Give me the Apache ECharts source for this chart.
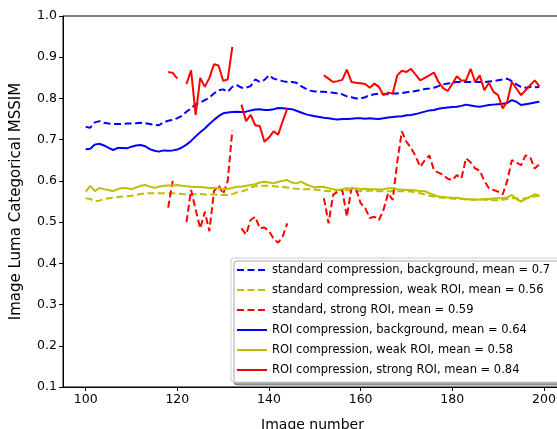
<!DOCTYPE html>
<html>
<head>
    <meta charset="utf-8">
    <script src="https://cdn.jsdelivr.net/npm/echarts@6/dist/echarts.min.js"></script>
</head>
<body style="margin: 0">
    <div id = "main" style = "width: 557px; height: 429px"></div>
    <script type = "text/javascript">
        // image numbers 100 .. 199
        var firstImage = 100, lastImage = 199;
        var xTicks = [100, 120, 140, 160, 180, 200];
        var yTicks = [0.1, 0.2, 0.3, 0.4, 0.5, 0.6, 0.7, 0.8, 0.9, 1.0];

        var names = [
            'standard compression, background, mean = 0.7',
            'standard compression, weak ROI, mean = 0.56',
            'standard, strong ROI, mean = 0.59',
            'ROI compression, background, mean = 0.64',
            'ROI compression, weak ROI, mean = 0.58',
            'ROI compression, strong ROI, mean = 0.84'
        ];

        var stdBackground = [
            0.731, 0.729, 0.742, 0.745, 0.741, 0.739, 0.738, 0.738, 0.738, 0.739,
            0.739, 0.740, 0.741, 0.740, 0.738, 0.736, 0.735, 0.742, 0.746, 0.748,
            0.752, 0.758, 0.768, 0.776, 0.786, 0.790, 0.796, 0.802, 0.812, 0.820,
            0.822, 0.816, 0.828, 0.832, 0.826, 0.826, 0.830, 0.846, 0.840, 0.845,
            0.856, 0.848, 0.845, 0.842, 0.840, 0.840, 0.838, 0.830, 0.824, 0.819,
            0.817, 0.816, 0.816, 0.815, 0.814, 0.812, 0.810, 0.805, 0.803, 0.800,
            0.800, 0.803, 0.808, 0.810, 0.812, 0.811, 0.810, 0.812, 0.812, 0.813,
            0.815, 0.816, 0.818, 0.820, 0.823, 0.824, 0.826, 0.830, 0.834, 0.836,
            0.838, 0.840, 0.840, 0.840, 0.840, 0.840, 0.840, 0.840, 0.841, 0.842,
            0.844, 0.846, 0.848, 0.842, 0.834, 0.828, 0.826, 0.828, 0.827, 0.828
        ];
        var stdWeak = [
            0.558, 0.556, 0.551, 0.552, 0.556, 0.558, 0.559, 0.561, 0.562, 0.563,
            0.564, 0.566, 0.568, 0.570, 0.570, 0.570, 0.570, 0.570, 0.570, 0.570,
            0.569, 0.568, 0.567, 0.567, 0.568, 0.568, 0.567, 0.567, 0.567, 0.566,
            0.566, 0.566, 0.568, 0.572, 0.574, 0.578, 0.584, 0.587, 0.588, 0.588,
            0.588, 0.587, 0.586, 0.585, 0.584, 0.582, 0.581, 0.580, 0.580, 0.580,
            0.579, 0.578, 0.576, 0.575, 0.576, 0.577, 0.578, 0.577, 0.576, 0.575,
            0.575, 0.576, 0.576, 0.576, 0.575, 0.575, 0.575, 0.575, 0.575, 0.575,
            0.575, 0.574, 0.572, 0.570, 0.567, 0.564, 0.562, 0.560, 0.559, 0.558,
            0.557, 0.556, 0.556, 0.555, 0.555, 0.555, 0.555, 0.554, 0.553, 0.553,
            0.553, 0.554, 0.556, 0.558, 0.558, 0.557, 0.558, 0.560, 0.562, 0.564
        ];
        var stdStrong = [
            null, null, null, null, null, null, null, null, null, null,
            null, null, null, null, null, null, null, null, 0.535, 0.600,
            null, null, 0.500, 0.578, 0.530, 0.485, 0.525, 0.478, 0.575, 0.590,
            0.568, 0.600, 0.722, null, 0.485, 0.470, 0.505, 0.513, 0.485, 0.487,
            0.478, 0.460, 0.450, 0.465, 0.497, null, null, null, null, null,
            null, null, 0.558, 0.497, 0.566, 0.574, 0.578, 0.513, 0.582, 0.580,
            0.546, 0.534, 0.510, 0.513, 0.505, 0.530, 0.570, 0.554, 0.646, 0.720,
            0.695, 0.680, 0.660, 0.634, 0.650, 0.662, 0.626, 0.620, 0.615, 0.605,
            0.602, 0.614, 0.606, 0.655, 0.645, 0.630, 0.625, 0.600, 0.582, 0.578,
            0.574, 0.567, 0.600, 0.650, 0.645, 0.638, 0.662, 0.658, 0.630, 0.640
        ];
        var roiBackground = [
            0.677, 0.678, 0.688, 0.690, 0.686, 0.680, 0.675, 0.680, 0.680, 0.679,
            0.683, 0.686, 0.687, 0.684, 0.677, 0.673, 0.671, 0.674, 0.673, 0.674,
            0.676, 0.681, 0.688, 0.697, 0.708, 0.718, 0.727, 0.738, 0.748, 0.757,
            0.764, 0.766, 0.767, 0.768, 0.767, 0.768, 0.771, 0.773, 0.774, 0.772,
            0.772, 0.774, 0.777, 0.776, 0.775, 0.774, 0.770, 0.766, 0.762, 0.759,
            0.757, 0.755, 0.753, 0.752, 0.750, 0.749, 0.750, 0.750, 0.751, 0.752,
            0.752, 0.751, 0.752, 0.751, 0.750, 0.752, 0.754, 0.755, 0.756, 0.757,
            0.759, 0.760, 0.762, 0.765, 0.768, 0.771, 0.772, 0.775, 0.777, 0.778,
            0.779, 0.780, 0.782, 0.785, 0.783, 0.781, 0.780, 0.782, 0.784, 0.785,
            0.786, 0.787, 0.789, 0.796, 0.792, 0.784, 0.786, 0.788, 0.790, 0.792
        ];
        var roiWeak = [
            0.574, 0.588, 0.575, 0.583, 0.580, 0.578, 0.575, 0.580, 0.583, 0.582,
            0.580, 0.584, 0.588, 0.590, 0.586, 0.583, 0.586, 0.588, 0.589, 0.589,
            0.590, 0.588, 0.587, 0.586, 0.585, 0.585, 0.584, 0.583, 0.583, 0.582,
            0.580, 0.581, 0.583, 0.586, 0.586, 0.588, 0.590, 0.592, 0.596, 0.598,
            0.596, 0.594, 0.598, 0.600, 0.602, 0.596, 0.594, 0.598, 0.592, 0.588,
            0.584, 0.586, 0.585, 0.582, 0.580, 0.578, 0.580, 0.582, 0.581, 0.582,
            0.580, 0.581, 0.580, 0.580, 0.579, 0.580, 0.582, 0.582, 0.580, 0.579,
            0.578, 0.578, 0.577, 0.575, 0.575, 0.570, 0.566, 0.562, 0.561, 0.560,
            0.559, 0.559, 0.557, 0.556, 0.555, 0.554, 0.555, 0.556, 0.556, 0.557,
            0.558, 0.558, 0.560, 0.566, 0.556, 0.550, 0.556, 0.562, 0.567, 0.565
        ];
        var roiStrong = [
            null, null, null, null, null, null, null, null, null, null,
            null, null, null, null, null, null, null, null, 0.864, 0.862,
            0.848, null, 0.835, 0.868, 0.760, 0.850, 0.828, 0.850, 0.883, 0.880,
            0.843, 0.846, 0.925, null, 0.785, 0.745, 0.760, 0.735, 0.733, 0.695,
            0.705, 0.720, 0.712, 0.745, 0.776, null, null, null, null, null,
            null, null, 0.856, 0.848, 0.840, 0.842, 0.845, 0.870, 0.840, 0.838,
            0.837, 0.835, 0.826, 0.836, 0.828, 0.808, 0.814, 0.812, 0.856, 0.867,
            0.864, 0.872, 0.858, 0.844, 0.850, 0.856, 0.863, 0.840, 0.825, 0.818,
            0.835, 0.854, 0.843, 0.844, 0.872, 0.840, 0.856, 0.820, 0.838, 0.816,
            0.808, 0.776, 0.792, 0.840, 0.824, 0.808, 0.820, 0.832, 0.844, 0.830
        ];

        var values = [stdBackground, stdWeak, stdStrong, roiBackground, roiWeak, roiStrong];
        var colors = ['#0000ff', '#bfbf00', '#ff0000', '#0000ff', '#bfbf00', '#ff0000'];
        var dashed = [true, true, true, false, false, false];

        window.onload = function () {
            chart();
        }

        function pairs(arr) {
            var out = [];
            for (var i = 0; i < arr.length; i++) {
                out.push([firstImage + i, arr[i] == null ? '-' : arr[i]]);
            }
            return out;
        }

        function chart() {
            var myChart = echarts.init(document.getElementById('main'));
            var serie = [];
            for (var k = 0; k < values.length; k++) {
                serie.push({
                    name: names[k],
                    type: 'line',
                    data: pairs(values[k]),
                    showSymbol: false,
                    symbol: 'none',
                    connectNulls: false,
                    lineStyle: {
                        color: colors[k],
                        width: 2,
                        type: dashed[k] ? [7, 3.5] : 'solid'
                    },
                    itemStyle: { color: colors[k] }
                });
            }
            var textFont = 'DejaVu Sans';
            var option = {
                animation: false,
                backgroundColor: '#fff',
                grid: {
                    left: 63,
                    top: 16,
                    right: -5,
                    bottom: 42,
                    outerBoundsMode: 'none',
                    show: true,
                    borderColor: '#000',
                    borderWidth: 1
                },
                xAxis: {
                    type: 'value',
                    min: 95.05,
                    max: 203.95,
                    name: 'Image number',
                    nameLocation: 'middle',
                    nameGap: 31,
                    nameTextStyle: { fontFamily: textFont, fontSize: 14, color: '#000' },
                    splitLine: { show: false },
                    axisLine: { lineStyle: { color: '#000', width: 1 } },
                    axisTick: { show: true, length: 4, customValues: xTicks, lineStyle: { color: '#000' } },
                    axisLabel: { customValues: xTicks, fontFamily: textFont, fontSize: 12.5, color: '#000', margin: 6 }
                },
                yAxis: {
                    type: 'value',
                    min: 0.1,
                    max: 1.0,
                    name: 'Image Luma Categorical MSSIM',
                    nameLocation: 'middle',
                    nameGap: 39,
                    nameTextStyle: { fontFamily: textFont, fontSize: 15, color: '#000' },
                    splitLine: { show: false },
                    axisLine: { show: true, lineStyle: { color: '#000', width: 1 } },
                    axisTick: { show: true, length: 4, customValues: yTicks, lineStyle: { color: '#000' } },
                    axisLabel: {
                        customValues: yTicks, fontFamily: textFont, fontSize: 12.5, color: '#000', margin: 6,
                        formatter: function (v) { return v.toFixed(1); }
                    }
                },
                legend: {
                    orient: 'vertical',
                    left: 231,
                    top: 258,
                    padding: [6, 20, 6, 5],
                    itemWidth: 30,
                    itemHeight: 12,
                    itemGap: 8,
                    align: 'left',
                    itemStyle: { opacity: 0 },
                    backgroundColor: '#fff',
                    borderColor: '#ccc',
                    borderWidth: 1,
                    borderRadius: 3,
                    shadowColor: 'rgba(0,0,0,0.35)',
                    shadowBlur: 0,
                    shadowOffsetX: 3,
                    shadowOffsetY: 3,
                    textStyle: { fontFamily: textFont, fontSize: 11.5, color: '#000', lineHeight: 12 },
                    data: names
                },
                series: serie
            };
            myChart.setOption(option);
        }
    </script>
</body>
</html>
